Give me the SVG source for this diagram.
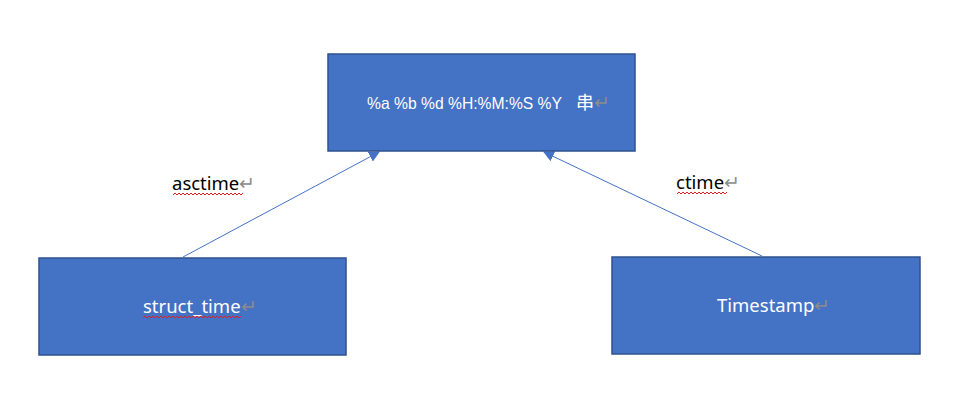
<svg xmlns="http://www.w3.org/2000/svg" width="973" height="401" viewBox="0 0 973 401">
  <style>
    .box { fill: #4472C4; stroke: #2F528F; stroke-width: 1.5; }
    .txt { font-family: "Noto Sans", "Noto Sans CJK SC", sans-serif; font-size: 18.5px; white-space: pre; }
    .fmt { font-family: "Liberation Sans", "Noto Sans CJK SC", sans-serif; font-size: 16.5px; }
    .cjk { font-family: "Noto Sans CJK SC", sans-serif; font-size: 18px; }
    .w { fill: #FFFFFF; }
    .k { fill: #000000; }
    .pm { fill: #8C8C8C; }
    .wave { fill: none; stroke: #E02020; stroke-width: 1; }
    .edge { fill: none; stroke: #4472C4; stroke-width: 1; }
  </style>
  <defs>
    <marker id="tri" viewBox="0 0 10 10" refX="9" refY="5" markerWidth="11" markerHeight="11" markerUnits="userSpaceOnUse" orient="auto">
      <path d="M0,0 L10,5 L0,10 Z" fill="#4472C4"/>
    </marker>
  </defs>
  <rect width="973" height="401" fill="#FFFFFF"/>

  <g id="connectors">
    <line class="edge" x1="183" y1="257" x2="379" y2="152" marker-end="url(#tri)"/>
    <line class="edge" x1="762" y1="256" x2="544" y2="152" marker-end="url(#tri)"/>
    <text class="txt k" x="172" y="190">asctime<tspan class="pm">↵</tspan></text>
    <path class="wave" d="M173,195 l2,-2 l2,2 l2,-2 l2,2 l2,-2 l2,2 l2,-2 l2,2 l2,-2 l2,2 l2,-2 l2,2 l2,-2 l2,2 l2,-2 l2,2 l2,-2 l2,2 l2,-2 l2,2 l2,-2 l2,2 l2,-2 l2,2 l2,-2 l2,2 l2,-2 l2,2 l2,-2 l2,2 l2,-2 l2,2 l2,-2 l2,2 l2,-2"/>
    <text class="txt k" x="676" y="189">ctime<tspan class="pm">↵</tspan></text>
    <path class="wave" d="M677,194 l2,-2 l2,2 l2,-2 l2,2 l2,-2 l2,2 l2,-2 l2,2 l2,-2 l2,2 l2,-2 l2,2 l2,-2 l2,2 l2,-2 l2,2 l2,-2 l2,2 l2,-2 l2,2 l2,-2 l2,2 l2,-2 l2,2 l2,-2"/>
  </g>

  <g id="node-format">
    <rect class="box" x="328" y="54" width="307" height="97"/>
    <text class="fmt w" x="367" y="109"><tspan textLength="195" lengthAdjust="spacingAndGlyphs">%a %b %d %H:%M:%S %Y</tspan><tspan class="cjk" x="576">串</tspan><tspan class="txt pm">↵</tspan></text>
  </g>

  <g id="node-struct-time">
    <rect class="box" x="39" y="258" width="307" height="97"/>
    <text class="txt w" x="143" y="313">struct_time<tspan class="pm">↵</tspan></text>
    <path class="wave" d="M143,318 l2,-2 l2,2 l2,-2 l2,2 l2,-2 l2,2 l2,-2 l2,2 l2,-2 l2,2 l2,-2 l2,2 l2,-2 l2,2 l2,-2 l2,2 l2,-2 l2,2 l2,-2 l2,2 l2,-2 l2,2 l2,-2 l2,2 l2,-2 l2,2 l2,-2 l2,2 l2,-2 l2,2 l2,-2 l2,2 l2,-2 l2,2 l2,-2 l2,2 l2,-2 l2,2 l2,-2 l2,2 l2,-2 l2,2 l2,-2 l2,2 l2,-2 l2,2 l2,-2 l2,2 l2,-2"/>
  </g>

  <g id="node-timestamp">
    <rect class="box" x="612" y="257" width="308" height="97"/>
    <text class="txt w" x="717" y="312">Timestamp<tspan class="pm">↵</tspan></text>
  </g>
</svg>
